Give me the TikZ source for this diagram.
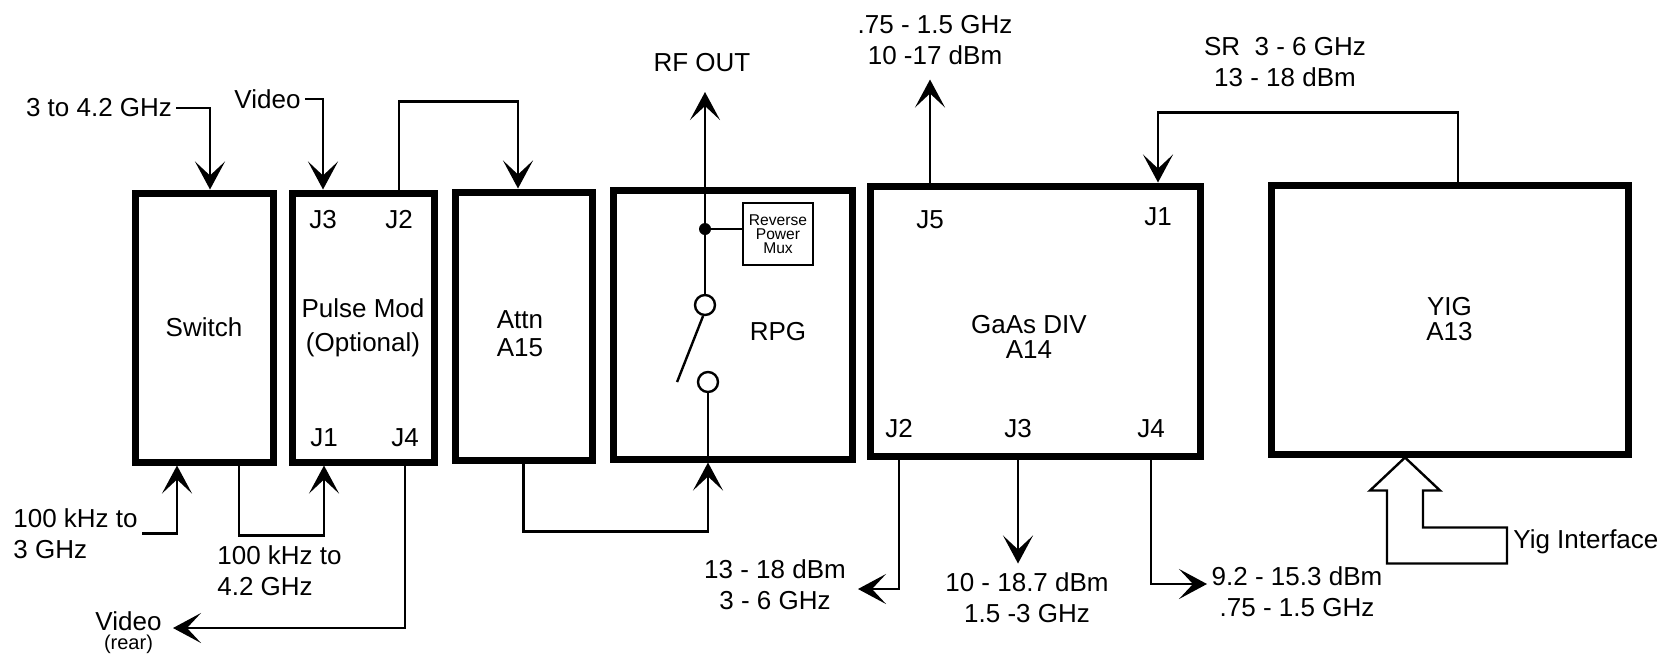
\documentclass[tikz,border=0pt]{standalone}
\usepackage{fontspec}
\setmainfont{Liberation Sans}
\usetikzlibrary{arrows.meta}
\begin{document}
\begin{tikzpicture}[x=0.5pt,y=-0.5pt,every node/.style={font=\fontsize{13}{15.5}\selectfont,inner sep=2pt},blk/.style={draw,line width=3.5pt,inner sep=0pt,align=center},arr/.style={line width=1.2pt,-{Stealth[length=14pt,width=15pt,inset=7pt]}},wire/.style={line width=1.2pt},term/.style={circle,draw,line width=1.2pt,fill=white,minimum size=10pt,inner sep=0pt}]
\useasboundingbox (0,0) rectangle (1675,655);
\node[blk,minimum width=69pt,minimum height=134.5pt] (sw) at (204,327.5) {Switch};
\node[blk,minimum width=71pt,minimum height=134.5pt,font=\fontsize{13}{17}\selectfont] (pm) at (363,327.5) {Pulse Mod\\(Optional)};
\node[blk,minimum width=68.5pt,minimum height=134pt] (att) at (523.5,326) {};
\node[blk,minimum width=119.5pt,minimum height=134.5pt] (rpg) at (732.5,324.5) {};
\node[blk,minimum width=165pt,minimum height=135pt] (ga) at (1035,321) {};
\node[blk,minimum width=178.5pt,minimum height=134.5pt,font=\fontsize{13}{12.5}\selectfont] (yig) at (1449.5,319.5) {YIG\\A13};
\node[align=center,font=\fontsize{13}{14}\selectfont] (attt) at (520,334) {Attn\\A15};
\node (rpgt) at (778,332) {RPG};
\node[align=center,font=\fontsize{13}{12.5}\selectfont] (gat) at (1029,337) {GaAs DIV\\A14};
\foreach \n/\lab/\x/\y in {j3p/J3/323/220,j2p/J2/399/220,j1p/J1/324/438,j4p/J4/405/438,j5g/J5/930/220,j1g/J1/1158/217,j2g/J2/899/429,j3g/J3/1018/429,j4g/J4/1151/429} {\node (\n) at (\x,\y) {\lab};}
\node[term] (c1) at (705,305) {};
\node[term] (c2) at (708,382) {};
\node[circle,fill,minimum size=6pt,inner sep=0pt] (jn) at (705,229) {};
\node[draw,line width=1.2pt,minimum width=35pt,minimum height=31pt,inner sep=0pt,align=center,font=\fontsize{7.8}{7}\selectfont] (rpm) at (778,234) {Reverse\\Power\\Mux};
\node (lin) at (99,108) {3 to 4.2 GHz};
\node (vin) at (267.5,99) {Video};
\node (rf) at (702,63) {RF OUT};
\node[align=center] (l5) at (935,40) {.75 - 1.5 GHz\\10 -17 dBm};
\node[align=center] (lsr) at (1285,62) {SR~~3 - 6 GHz\\13 - 18 dBm};
\node[align=left,anchor=west] (lo3) at (9,533.5) {100 kHz to\\3 GHz};
\node[align=left,anchor=west] (lo4) at (213,570.5) {100 kHz to\\4.2 GHz};
\node (vr) at (128.5,621) {Video};
\node[font=\fontsize{10}{12}\selectfont] (vrr) at (128.5,644) {(rear)};
\node[align=center] (l2) at (775,585) {13 - 18 dBm\\3 - 6 GHz};
\node[align=center] (l3) at (1027,598) {10 - 18.7 dBm\\1.5 -3 GHz};
\node[align=center] (l4) at (1297,592) {9.2 - 15.3 dBm\\.75 - 1.5 GHz};
\node[anchor=west] (yi) at (1509,542) {Yig Interface};
\coordinate (rft) at (705,92);
\coordinate (vt) at (173,628);
\coordinate (t2) at (858,589);
\coordinate (t4) at (1207,584);
\draw[arr] (lin.east) -| ([xshift=3pt]sw.north);
\draw[arr] (vin.east) -| (j3p |- pm.north);
\draw[arr] (j2p |- pm.north) -- ++(0,-88) -| ([xshift=-2.75pt]att.north);
\draw[arr] (lo3.east) -| ([xshift=-13.5pt]sw.south);
\draw[arr] ([xshift=17.5pt]sw.south) -- ++(0,70) -| (j1p |- pm.south);
\draw[arr] (j4p |- pm.south) |- (vt);
\draw[arr] (att.south) -- ++(0,68) -| (c2 |- rpg.south);
\draw[wire] (c2.south) -- (c2 |- rpg.south);
\draw[arr] (c1.north) -- (rft);
\draw[wire] (jn) -- (jn -| rpm.west);
\draw[wire] (c1.260) -- ++(-26,66);
\draw[arr] (j5g |- ga.north) -- ++(0,-103);
\draw[arr] ([xshift=4.25pt]yig.north) -- ++(0,-69) -| (j1g |- ga.north);
\draw[arr] (j2g |- ga.south) |- (t2);
\draw[arr] (j3g |- ga.south) -- ++(0,104);
\draw[arr] (j4g |- ga.south) |- (t4);
\draw[wire,line join=miter] ([xshift=-22.25pt]yig.south) -- ++(35,33) -- ++(-17,0) -- ++(0,37) -- ++(84,0) -- ++(0,36) -- ++(-120,0) -- ++(0,-73) -- ++(-17,0) -- cycle;
\end{tikzpicture}
\end{document}
